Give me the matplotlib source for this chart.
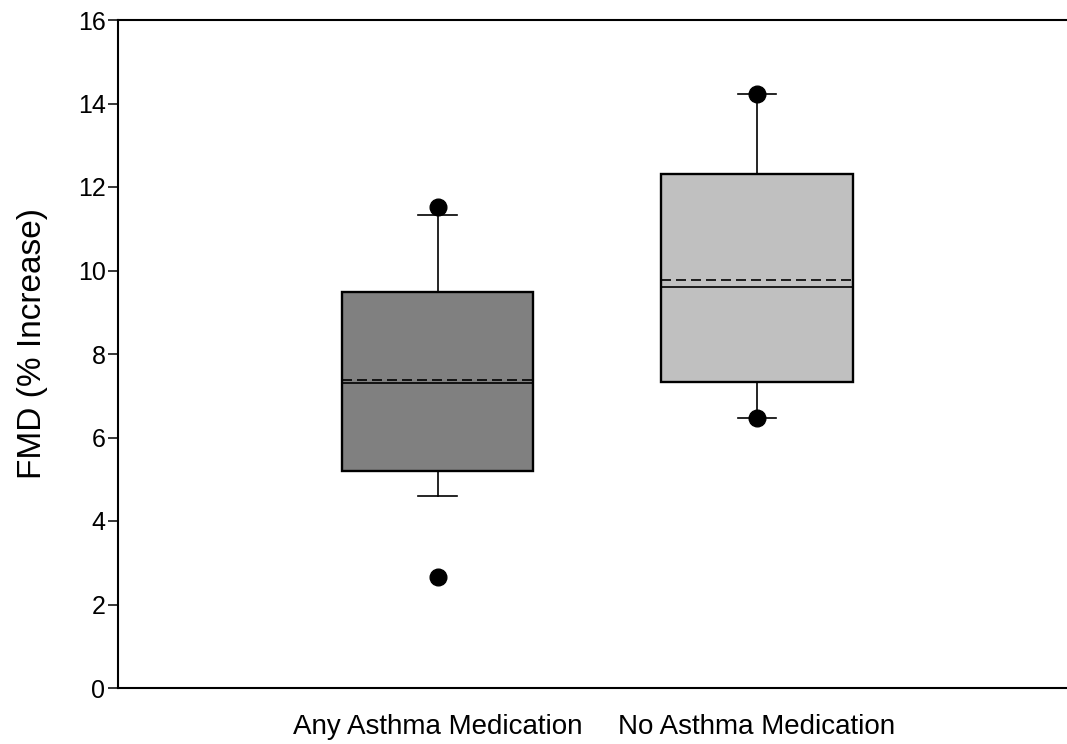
import matplotlib
matplotlib.use("Agg")
import matplotlib.pyplot as plt

plt.rcParams['font.family'] = ['Liberation Sans', 'DejaVu Sans']

# group labels
groups = ["Any Asthma Medication", "No Asthma Medication"]

# box statistics
q1 = [5.20, 7.32]
medians = [7.31, 9.60]
q3 = [9.48, 12.30]
means = [7.38, 9.77]
whis_lo = [4.61, 6.47]
whis_hi = [11.34, 14.23]
fliers = [[11.51, 2.66], [14.23, 6.47]]

box_colors = ["#808080", "#c0c0c0"]

stats = []
for i, g in enumerate(groups):
    stats.append(dict(label=g, q1=q1[i], med=medians[i], q3=q3[i], mean=means[i],
                      whislo=whis_lo[i], whishi=whis_hi[i], fliers=fliers[i]))

fig = plt.figure(figsize=(10.67, 7.44), dpi=100)
ax = fig.add_axes([118 / 1067, 56 / 744, 1 - 118 / 1067, (688 - 20) / 744])

bp = ax.bxp(stats, positions=[1, 2], widths=0.6, patch_artist=True,
            showmeans=True, meanline=True, capwidths=0.12,
            boxprops=dict(linewidth=1.7, edgecolor='black'),
            whiskerprops=dict(linewidth=1.2, color='black'),
            capprops=dict(linewidth=1.2, color='black'),
            medianprops=dict(linewidth=1.2, color='black'),
            meanprops=dict(linewidth=1.2, color='black', linestyle=(0, (6, 3))),
            flierprops=dict(marker='o', markerfacecolor='black', markeredgecolor='black',
                            markersize=12))
for patch, c in zip(bp['boxes'], box_colors):
    patch.set_facecolor(c)

ax.set_xlim(0, 2.97)
ax.set_ylim(0, 16)
ax.set_yticks(range(0, 17, 2))
ax.set_ylabel("FMD (% Increase)", fontsize=24, labelpad=21)
ax.yaxis.label.set_y(0.515)
ax.tick_params(axis='y', direction='out', length=7, width=1.1, labelsize=18, pad=2)
ax.tick_params(axis='x', length=0, labelsize=20, pad=19)
ax.spines['right'].set_visible(False)
for s in ['left', 'top', 'bottom']:
    ax.spines[s].set_linewidth(1.5)

fig.savefig("out.png", dpi=100)
